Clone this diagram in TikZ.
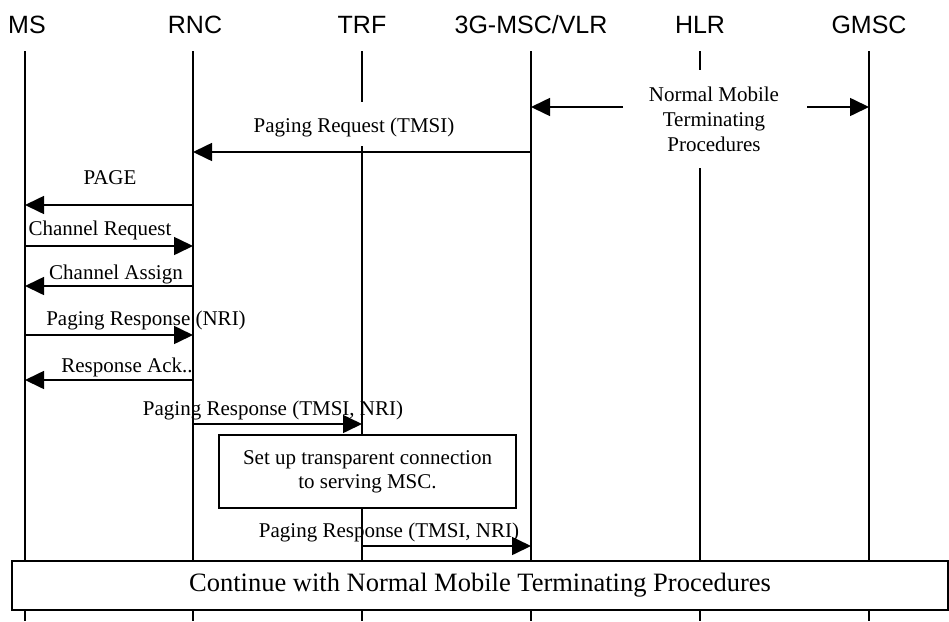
\documentclass[tikz,border=0pt]{standalone}
\usepackage{fontspec}
\setmainfont{Liberation Serif}
\newfontfamily\hdrfont{Liberation Sans}
\usetikzlibrary{arrows.meta}
\begin{document}
\begin{tikzpicture}[x=1pt,y=-1pt,
  hdr/.style={font=\hdrfont\fontsize{25}{30}\selectfont, inner sep=0pt, anchor=base},
  lifeline/.style={line width=1.2pt},
  msg/.style={line width=1.6pt, -{Triangle[length=19pt,width=18pt]}},
  lbl/.style={font=\fontsize{21}{25}\selectfont, inner sep=0pt, anchor=base},
  procbox/.style={draw, line width=1.2pt, fill=white, align=center, inner sep=0pt}]
\useasboundingbox (0,0) rectangle (949,621);

% headers
\node[hdr] (ms)   at (27,33)  {MS};
\node[hdr] (rnc)  at (195,33) {RNC};
\node[hdr] (trf)  at (362,33) {TRF};
\node[hdr] (msc)  at (531,33) {3G-MSC/VLR};
\node[hdr] (hlr)  at (700,33) {HLR};
\node[hdr] (gmsc) at (869,33) {GMSC};

% lifelines
\foreach \n/\x in {ms/25, rnc/193, trf/362, msc/531, hlr/700, gmsc/869}{
  \coordinate (\n top) at (\x,51);
  \coordinate (\n bot) at (\x,621);
  \draw[lifeline] (\n top) -- (\n bot);
}

% white-backed labels
\node[lbl, align=center, anchor=center, fill=white, minimum height=98pt, inner xsep=3pt]
  (nmtp) at (714,119) {Normal Mobile\\Terminating\\Procedures};
\node[lbl, fill=white, text height=30pt, text depth=14pt] (lpreq) at (354,132) {Paging Request (TMSI)};

% procedure boxes
\node[procbox, font=\fontsize{21}{24}\selectfont, minimum width=297pt, minimum height=73pt]
  (setup) at (367.5,471.5) {Set up transparent connection\\to serving MSC.};
\node[procbox, font=\fontsize{26.5}{30}\selectfont, minimum width=936pt, minimum height=49pt]
  (cont) at (480,585.5) {Continue with Normal Mobile Terminating Procedures};

% message end points
\coordinate (nmL) at (623,107);  \coordinate (nmLe) at (531,107);
\coordinate (nmR) at (807,107);  \coordinate (nmRe) at (869,107);
\coordinate (a1s) at (531,152);  \coordinate (a1e) at (193,152);
\coordinate (a2s) at (193,205);  \coordinate (a2e) at (25,205);
\coordinate (a3s) at (25,246);   \coordinate (a3e) at (193,246);
\coordinate (a4s) at (193,286);  \coordinate (a4e) at (25,286);
\coordinate (a5s) at (25,335);   \coordinate (a5e) at (193,335);
\coordinate (a6s) at (193,380);  \coordinate (a6e) at (25,380);
\coordinate (a7s) at (193,424);  \coordinate (a7e) at (362,424);
\coordinate (a8s) at (362,546);  \coordinate (a8e) at (531,546);

% messages
\draw[msg] (nmL) -- (nmLe);
\draw[msg] (nmR) -- (nmRe);
\draw[msg] (a1s) -- (a1e);
\draw[msg] (a2s) -- (a2e);
\draw[msg] (a3s) -- (a3e);
\draw[msg] (a4s) -- (a4e);
\draw[msg] (a5s) -- (a5e);
\draw[msg] (a6s) -- (a6e);
\draw[msg] (a7s) -- (a7e);
\draw[msg] (a8s) -- (a8e);

% labels
\node[lbl] (lpage) at (110,184) {PAGE};
\node[lbl] (lcreq) at (100,235) {Channel Request};
\node[lbl] (lcass) at (116,279) {Channel Assign};
\node[lbl] (lpr1)  at (146,325) {Paging Response (NRI)};
\node[lbl] (lack)  at (127,372) {Response Ack..};
\node[lbl] (lpr2)  at (273,415) {Paging Response (TMSI, NRI)};
\node[lbl] (lpr3)  at (389,537) {Paging Response (TMSI, NRI)};
\end{tikzpicture}
\end{document}
